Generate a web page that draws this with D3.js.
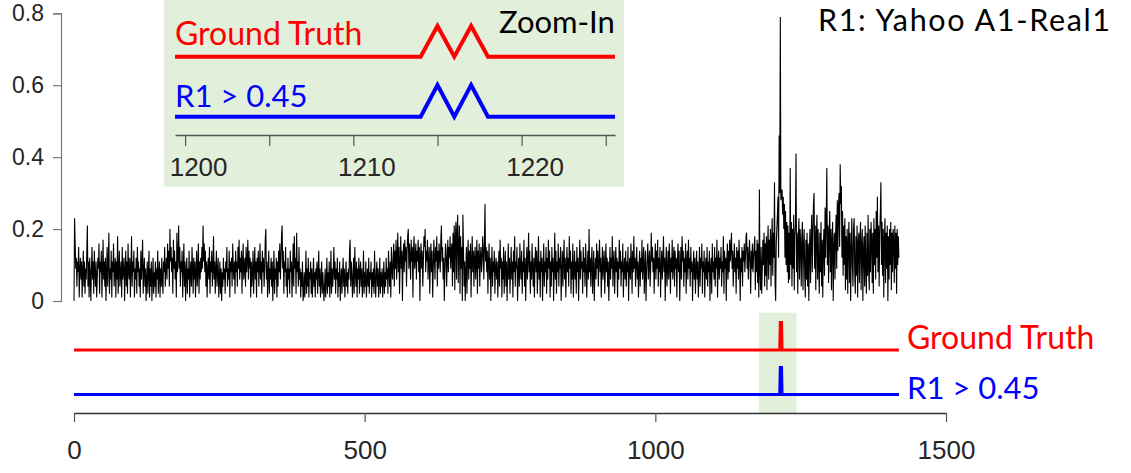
<!DOCTYPE html>
<html>
<head>
<meta charset="utf-8">
<script src="https://cdn.jsdelivr.net/npm/d3@7"></script>
<style>
  body { margin: 0; background: #fff; }
  svg { display: block; }
</style>
</head>
<body>
<svg id="chart" width="1131" height="473"></svg>
<script>
// values, split by stretch of the series
const valuesA = [
  0,0.23,0.16,0.09,0.12,0.04,0.11,0.08,0.15,0.01,0.09,0.12,0.06,0.11,0.01,0.08,0.14,0.04,0.11,0.02,
  0.09,0.06,0.14,0.21,0.04,0.11,0.01,0.12,0.08,0,0.09,0.15,0.06,0.11,0.02,0.14,0.08,0.04,0.11,0.01,
  0.06,0.12,0.09,0.16,0.02,0.11,0.08,0.14,0.01,0.09,0.17,0.06,0.11,0.04,0.12,0,0.08,0.15,0.04,0.11,
  0.19,0.02,0.09,0.06,0.14,0.01,0.11,0.08,0.16,0.04,0.09,0.12,0.01,0.11,0.06,0.18,0.02,0.09,0.14,0.04,
  0.08,0.11,0.01,0.15,0.06,0.09,0.12,0,0.08,0.14,0.04,0.11,0.02,0.16,0.08,0.06,0.12,0.01,0.09,0.18,
  0.04,0.11,0.08,0.14,0.01,0.09,0.06,0.12,0.02,0.15,0.08,0.11,0.04,0.09,0.01,0.14,0.06,0.11,0.17,0.02,
  0.08,0.12,0.04,0.09,0,0.06,0.11,0.02,0.08,0.14,0.01,0.09,0.04,0.11,0,0.06,0.12,0.02,0.08,0.04,
  0.11,0.01,0.09,0.06,0.14,0.02,0.08,0.11,0.01,0.09,0.04,0.12,0.06,0.02,0.11,0.08,0.15,0.04,0.09,0.12,
  0.06,0.16,0.09,0.14,0.04,0.2,0.11,0.15,0.08,0.12,0.02,0.17,0.09,0.14,0.06,0.11,0.01,0.19,0.08,0.12,
  0.21,0.09,0.15,0.04,0.11,0.08,0.14,0.01,0.09,0.16,0.04,0.11,0,0.08,0.12,0.02,0.09,0.06,0.14,0.01,
  0.08,0.11,0.04,0.15,0.09,0.02,0.12,0.06,0.11,0.01,0.08,0.14,0.04,0.09,0.16,0.02,0.11,0.06,0.12,0.08,
  0.15,0.09,0.21,0.11,0.16,0.08,0.14,0.04,0.11,0.01,0.09,0.12,0.06,0.15,0.02,0.11,0.08,0.14,0.04,0.09,
  0.18,0.06,0.11,0.02,0.09,0.14,0.04,0.08,0.12,0.01,0.06,0.11,0.02,0.09,0,0.08,0.04,0.12,0.06,0.09,
  0.02,0.11,0.08,0.15,0.04,0.09,0.06,0.14,0.01,0.11,0.08,0.12,0.04,0.16,0.09,0.06,0.11,0.02,0.14,0.08,
  0.11,0.04,0.15,0.09,0.17,0.06,0.12,0.08,0.14,0.02,0.11,0.16,0.06,0.09,0.12,0.04,0.15,0.08,0.11,0.17,
  0.06,0.14,0.09,0.12,0.01,0.11,0.04,0.08,0.14,0.02,0.09,0.15,0.06,0.11,0.01,0.12,0.08,0.14,0.04,0.09,
  0.16,0.06,0.11,0.02,0.14,0.08,0.12,0.04,0.09,0.17,0.2,0.06,0.11,0.01,0.08,0.14,0.02,0.09,0.06,0.12,
  0.04,0.11,0,0.08,0.14,0.02,0.09,0.06,0.12,0.01
];
const valuesB = [
  0.11,0.04,0.14,0.08,0.16,0.06,0.11,0.18,0.21,0.09,0.14,0.02,0.11,0.08,0.15,0.04,0.09,0.01,0.12,0.06,
  0.09,0.02,0.14,0.08,0.11,0.01,0.08,0.16,0.04,0.18,0.09,0.12,0.02,0.19,0.08,0.11,0.04,0.15,0.06,0.09,
  0.01,0.08,0.04,0.11,0,0.02,0.08,0.01,0.06,0.14,0.02,0.09,0.04,0.12,0.01,0.08,0.06,0.11,0.02,0.09,
  0.01,0.06,0.12,0.04,0.08,0.01,0.09,0.06,0.11,0.02,0.08,0.14,0.04,0.09,0.01,0.06,0.11,0.02,0.08,0.04,
  0,0.04,0.09,0.01,0.06,0.12,0.02,0.08,0.04,0.11,0.01,0.06,0.14,0.02,0.09,0.04,0.08,0.15,0.06,0.11,
  0.02,0.09,0.06,0.12,0.01,0.08,0.04,0.11,0,0.06,0.09,0.02,0.08,0.12,0.04,0.09,0.01,0.06,0.11,0.04,
  0.08,0.02,0.09,0.06,0.14,0.17,0.04,0.11,0.08,0.01,0.06,0.12,0.02,0.15,0.08,0.04,0.11,0.01,0.09,0.06,
  0.12,0.02,0.08,0.11,0.04,0.09,0.01,0.06,0.14,0.02,0.08,0.04,0.11,0.01,0.06,0.09,0.04,0.12,0.02,0.08,
  0.06,0.11,0.01,0.08,0.04,0.09,0.02,0.14,0.06,0.01,0.08,0.11,0.04,0.09,0.01,0.06,0.12,0.02,0.08,0.04,
  0.09,0.01,0.06,0.11,0.02,0.08,0.04,0.12,0.06,0.09,0.02,0.14,0.08,0.04,0.11,0.01,0.15,0.09,0.06,0.12
];
const valuesC = [
  0.16,0.04,0.14,0.09,0.17,0.06,0.12,0.19,0.08,0.15,0.02,0.11,0.18,0.09,0.14,0,0.12,0.16,0.08,0.17,
  0.11,0.15,0.04,0.14,0.18,0.2,0.09,0.16,0.12,0.06,0.17,0.11,0.15,0.01,0.14,0.18,0.09,0.12,0.16,0.06,
  0.14,0.11,0.17,0.08,0.15,0,0.12,0.16,0.09,0.14,0.04,0.11,0.18,0.15,0.2,0.08,0.14,0.11,0.17,0.06,
  0.12,0.15,0.02,0.11,0.16,0.08,0.14,0.01,0.09,0.17,0.12,0.06,0.15,0.11,0.18,0.04,0.14,0.09,0.16,0.12,
  0.08,0.17,0.21,0.11,0.15,0.06,0.12,0,0.09,0.16,0.14,0.04,0.11,0.17,0.08,0.15,0.12,0.18,0.09,0.14,
  0.16,0.04,0.19,0.08,0.21,0.03,0.17,0.22,0.06,0.19,0.24,0.05,0.16,0.21,0.02,0.18,0.09,0.15,0,0.24,
  0.14,0.04,0.11,0,0.08,0.15,0.02,0.12,0.17,0.06,0.14,0.09,0.16,0.01,0.11,0.18,0.08,0.14,0.04,0.12,
  0.15,0.06,0.11,0.17,0.02,0.14,0.09,0.16,0.04,0.12,0.15,0.08,0.11,0.18,0.14,0.06,0.16,0.27,0.11,0.15,
  0.08,0.14,0.02,0.11,0.16,0.06,0.12,0,0.09,0.15,0.04,0.11,0.08,0.14,0.02,0.09,0.12,0.06,0.11,0.01
];
const valuesD = [
  0.08,0.14,0.04,0.17,0.09,0.12,0.01,0.11,0.06,0.15,0.02,0.09,0.14,0.04,0.11,0,0.08,0.16,0.06,0.12,
  0.02,0.09,0.15,0.06,0.11,0.01,0.14,0.08,0.18,0.04,0.11,0.09,0.15,0,0.08,0.12,0.04,0.16,0.09,0.06,
  0.14,0.02,0.11,0.08,0.17,0.04,0.12,0,0.09,0.15,0.06,0.11,0.19,0.08,0.14,0.02,0.11,0.06,0.16,0.09,
  0.04,0.12,0.01,0.11,0.15,0.08,0.14,0.02,0.09,0.18,0.06,0.11,0.01,0.14,0.08,0.12,0,0.09,0.16,0.04,
  0.11,0.08,0.15,0.02,0.12,0.06,0.17,0.09,0.14,0.01,0.11,0.04,0.15,0.08,0.12,0,0.09,0.19,0.06,0.14,
  0.02,0.11,0.08,0.16,0.04,0.12,0.09,0.15,0,0.08,0.14,0.04,0.11,0.17,0.06,0.12,0.01,0.09,0.15,0.08,
  0.12,0.04,0.18,0.09,0.14,0.02,0.11,0.06,0.16,0.01,0.09,0.14,0.06,0.11,0.02,0.15,0.08,0.12,0,0.09,
  0.17,0.06,0.14,0.09,0.11,0.02,0.15,0.08,0.12,0.04,0.16,0.11,0.01,0.09,0.14,0.06,0.2,0.08,0.12,0.04,
  0.11,0.15,0.02,0.09,0.14,0,0.08,0.12,0.06,0.16,0.09,0.14,0.04,0.11,0.17,0.08,0.12,0.01,0.09,0.15,
  0.06,0.11,0.14,0.02,0.09,0.16,0.08,0.12,0.04,0.11,0,0.08,0.15,0.06,0.12,0.09,0.18,0.04,0.11,0.14,
  0.02,0.09,0.15,0.08,0.12,0.01,0.11,0.06,0.17,0.09,0.14,0.04,0.11,0.08,0.16,0.01,0.09,0.12,0.06,0.14,
  0.04,0.11,0.08,0.15,0,0.09,0.12,0.06,0.16,0.11,0.02,0.14,0.08,0.18,0.09,0.12,0.04,0.11,0.15,0.06,
  0.11,0.01,0.09,0.14,0.04,0.12,0.08,0.17,0.06,0.11,0.15,0.02,0.09,0.14,0,0.08,0.12,0.16,0.06,0.11,
  0.14,0.04,0.09,0.19,0.11,0.15,0.08,0.12,0.02,0.11,0.16,0.06,0.14,0.09,0.17,0.04,0.12,0.08,0.15,0.01,
  0.09,0.14,0.06,0.11,0.18,0.08,0.12,0,0.11,0.15,0.04,0.09,0.14,0.06,0.16,0.11,0.02,0.12,0.08,0.17,
  0.06,0.11,0.15,0.04,0.14,0.09,0.12,0.01,0.11,0.16,0.08,0.14,0,0.09,0.15,0.06,0.18,0.11,0.14,0.04,
  0.12,0.08,0.16,0.02,0.11,0.14,0.06,0.17,0.09,0.12,0.04,0.15,0.08,0.11,0,0.09,0.14,0.06,0.12,0.02,
  0.09,0.14,0.06,0.11,0.01,0.08,0.15,0.04,0.12,0.09,0.16,0.02,0.11,0.08,0.14,0.01,0.09,0.12,0.06,0.15,
  0.04,0.11,0.08,0.14,0,0.09,0.12,0.02,0.16,0.08,0.11,0.06,0.15,0.04,0.12,0.09,0.17,0.01,0.11,0.14,
  0.06,0.12,0.09,0.15,0.04,0.11,0.08,0.18,0.02,0.14,0.09,0.12,0,0.11,0.16,0.06,0.14,0.08,0.17,0.11,
  0.15,0.19,0.09,0.14,0.04,0.11,0.16,0.08,0.12,0.02,0.15,0.09,0.14,0.06,0.17,0.11,0,0.12,0.08,0.15,
  0.04,0.14,0.11,0.16,0.08,0.12,0.18,0.19,0.09,0.15,0.06,0.12,0.17,0.11,0.02,0.14,0.09,0.16,0.08,0.12
];
const valuesE = [
  0.15,0.18,0.03,0.14,0.08,0.17,0.05,0.16,0.01,0.31,0.08,0.03,0.15,0.02,0.09,0.17,0.1,0.19,0.04,0.16,
  0.07,0.18,0.03,0.15,0.21,0.06,0.17,0.1,0.2,0.04,0.16,0.23,0.07,0.19,0.12,0.33,0.05,0,0.16,0.2,
  0.24,0.29,0.12,0.46,0.3,0.79,0.28,0.3,0.31,0.24,0.29,0.2,0.27,0.12,0.25,0.1,0.22,0.08,0.21,0.05,
  0.19,0.06,0.37,0.1,0.22,0.04,0.2,0.09,0.24,0.03,0.18,0.21,0.41,0.08,0.19,0.02,0.17,0.23,0.06,0.2,
  0.16,0.04,0.18,0.22,0.03,0.15,0.2,0.07,0.01,0.17,0.06,0.19,0.04,0.16,0,0.14,0.2,0.05,0.17,0.24,
  0.08,0.19,0.27,0.3,0.09,0.21,0.03,0.18,0.24,0.06,0.2,0.1,0.02,0.19,0.08,0.22,0.04,0.17,0.01,0.15,
  0.2,0.07,0.26,0.12,0.23,0.37,0.1,0.21,0.05,0.19,0.25,0.08,0.2,0.03,0.17,0.22,0,0.15,0.19,0.06,
  0.18,0.24,0.09,0.28,0.14,0.26,0.3,0.15,0.38,0.27,0.32,0.12,0.25,0.07,0.21,0.1,0.23,0.03,0.18,0.06,
  0.2,0.02,0.16,0.22,0.05,0.19,0,0.14,0.23,0.1,0.04,0.2,0.23,0.08,0.02,0.18,0.07,0.21,0.01,0.16,
  0.19,0.05,0.17,0.22,0.03,0.15,0.2,0,0.14,0.18,0.04,0.21,0.1,0.02,0.19,0.07,0.24,0.09,0.03,0.2,
  0.08,0.22,0.17,0.05,0.19,0.02,0.23,0.1,0.2,0.06,0.25,0.12,0.29,0.08,0.21,0.04,0.19,0.24,0.33,0.1,
  0.22,0.07,0.2,0.01,0.17,0.23,0.05,0.19,0.09,0.21,0,0.18,0.06,0.2,0.1,0.22,0.03,0.19,0.08,0.2,
  0.17,0.05,0.21,0.09,0.19,0.02,0.2,0.1,0.18,0.12
];
const values = [].concat(valuesA, valuesB, valuesC, valuesD, valuesE);

const groundTruth = [1215, 1217]; // anomaly indexes
const detected = [1215, 1217];    // R1 > 0.45
const zoomRange = [1178, 1243];
const insetDomain = [1199.4, 1225.55];

const yTicks = [0, 0.2, 0.4, 0.6, 0.8];
const xTicks = [0, 500, 1000, 1500];
const insetTicks = [1200, 1205, 1210, 1215, 1220, 1225];
const insetLabels = [1200, 1210, 1220];

const title = "R1: Yahoo A1-Real1";
const gtLabel = "Ground Truth";
const r1Label = "R1 > 0.45";

const RED = "#ff0000", BLUE = "#0000ff", SHADE = "#e2efda";
const NUM_FONT = "'Liberation Sans', Arial, sans-serif";
const LABEL_FONT = "Lato, 'Open Sans', sans-serif";

const svg = d3.select("#chart");

var x = d3.scaleLinear().domain([0, 1500]).range([74, 946]);
var y = d3.scaleLinear().domain([0, 0.8]).range([301, 13.3]);
var yGT = d3.scaleLinear().domain([0, 1]).range([350, 321]);
var yR1 = d3.scaleLinear().domain([0, 1]).range([394.5, 366]);

var gtSeries = values.map((v, i) => (groundTruth.includes(i) ? 1 : 0));
var r1Series = values.map((v, i) => (detected.includes(i) ? 1 : 0));

// shaded zoom window under the flag lines
svg.append("rect")
  .attr("x", x(zoomRange[0]))
  .attr("y", 312.7)
  .attr("width", x(zoomRange[1]) - x(zoomRange[0]))
  .attr("height", 413 - 312.7)
  .attr("fill", SHADE);

// the series
svg.append("path")
  .datum(values)
  .attr("fill", "none")
  .attr("stroke", "#000")
  .attr("stroke-width", 1.1)
  .attr("d", d3.line().x((d, i) => x(i)).y((d) => y(d)));

function flagLine(data, ys) {
  return d3.line().x((d, i) => x(i)).y((d) => ys(d))(data);
}
svg.append("path")
  .attr("d", flagLine(gtSeries, yGT))
  .attr("fill", "none").attr("stroke", RED).attr("stroke-width", 3);
svg.append("path")
  .attr("d", flagLine(r1Series, yR1))
  .attr("fill", "none").attr("stroke", BLUE).attr("stroke-width", 3);

// y axis
var yAxis = svg.append("g")
  .attr("transform", "translate(61,0)")
  .call(d3.axisLeft(y).tickValues(yTicks).tickSize(8).tickPadding(9)
    .tickFormat((d) => (d === 0 ? "0" : d3.format(".1f")(d))));
yAxis.select(".domain").attr("stroke", "#777").attr("stroke-width", 1.2);
yAxis.selectAll(".tick line").attr("stroke", "#777").attr("stroke-width", 1.2);
yAxis.selectAll("text").attr("font-family", NUM_FONT).attr("font-size", 23).attr("fill", "#262626");

// x axis
var xAxis = svg.append("g")
  .attr("transform", "translate(0,413)")
  .call(d3.axisBottom(x).tickValues(xTicks).tickSize(9).tickSizeOuter(0).tickPadding(19)
    .tickFormat(d3.format("d")));
xAxis.select(".domain").attr("stroke", "#333").attr("stroke-width", 1.3);
xAxis.selectAll(".tick line").attr("stroke", "#555").attr("stroke-width", 1.2);
xAxis.selectAll("text").attr("font-family", NUM_FONT).attr("font-size", 26).attr("fill", "#262626");

// inset
var inset = svg.append("g");
inset.append("rect")
  .attr("x", 164).attr("y", 0).attr("width", 460).attr("height", 186.7)
  .attr("fill", SHADE);

var xi = d3.scaleLinear().domain(insetDomain).range([175, 615]);
var yiGT = d3.scaleLinear().domain([0, 1]).range([56.7, 26]);
var yiR1 = d3.scaleLinear().domain([0, 1]).range([116.7, 85]);

inset.append("clipPath").attr("id", "inset-clip")
  .append("rect").attr("x", 175).attr("y", 0).attr("width", 440).attr("height", 186);

var near = d3.range(1198, 1228);
var insetLine = (series, ys) =>
  d3.line().x((i) => xi(i)).y((i) => ys(series[i]))(near);

inset.append("path")
  .attr("d", insetLine(gtSeries, yiGT))
  .attr("clip-path", "url(#inset-clip)")
  .attr("fill", "none").attr("stroke", RED).attr("stroke-width", 4);
inset.append("path")
  .attr("d", insetLine(r1Series, yiR1))
  .attr("clip-path", "url(#inset-clip)")
  .attr("fill", "none").attr("stroke", BLUE).attr("stroke-width", 4);

var iAxis = inset.append("g")
  .attr("transform", "translate(0,135)")
  .call(d3.axisBottom(xi).tickValues(insetTicks).tickSize(11).tickSizeOuter(0).tickPadding(12)
    .tickFormat((d) => (insetLabels.includes(d) ? d : "")));
iAxis.select(".domain").attr("stroke", "#555").attr("stroke-width", 1.3);
iAxis.selectAll(".tick line").attr("stroke", "#555").attr("stroke-width", 1.2);
iAxis.selectAll("text").attr("dx", 13)
  .attr("font-family", NUM_FONT).attr("font-size", 26).attr("fill", "#262626");

// texts
function label(txt, px, py, color, size) {
  return svg.append("text")
    .attr("x", px).attr("y", py)
    .attr("font-family", LABEL_FONT).attr("font-size", size)
    .attr("fill", color)
    .text(txt);
}
label(gtLabel, 175, 45, RED, 32);
label(r1Label, 175, 106.7, BLUE, 31);
label("Zoom-In", 499, 33, "#000", 31);
label(title, 818, 30.5, "#000", 30.5)
  .attr("textLength", 292).attr("lengthAdjust", "spacing");
label(gtLabel, 907, 349, RED, 32);
label(r1Label, 907, 399, BLUE, 31);
</script>
</body>
</html>
